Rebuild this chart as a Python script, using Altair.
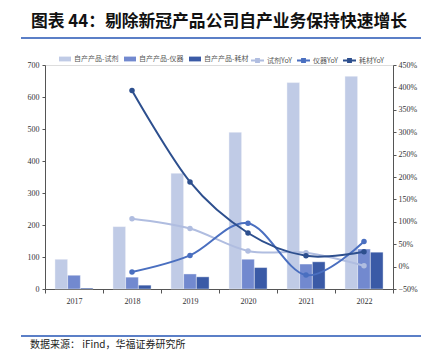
import altair as alt
import pandas as pd

years = ["2017", "2018", "2019", "2020", "2021", "2022"]
bar_series = ["自产产品-试剂", "自产产品-仪器", "自产产品-耗材"]
reagent = [93, 195, 362, 490, 645, 665]
instrument = [43, 37, 47, 93, 78, 125]
consumable = [3, 12, 38, 67, 85, 115]

line_series = ["试剂YoY", "仪器YoY", "耗材YoY"]
reagent_yoy = [None, 1.07, 0.85, 0.35, 0.31, 0.02]
instrument_yoy = [None, -0.12, 0.25, 0.97, -0.19, 0.56]
consumable_yoy = [None, 3.93, 1.89, 0.75, 0.24, 0.33]

bar_colors = ["#c0cbe6", "#7289cf", "#3a5aa6"]
line_colors = ["#b0bde0", "#4a6fc0", "#2d4f8e"]

bars = []
for s, vals in zip(bar_series, [reagent, instrument, consumable]):
    for y, v in zip(years, vals):
        bars.append({"year": y, "series": s, "value": v})
bar_df = pd.DataFrame(bars)

lines = []
for s, vals in zip(line_series, [reagent_yoy, instrument_yoy, consumable_yoy]):
    for y, v in zip(years, vals):
        if v is not None:
            lines.append({"year": y, "series": s, "yoy": v})
line_df = pd.DataFrame(lines)

serif = "Liberation Serif"
cjk = "Noto Sans CJK SC"

x_enc = alt.X("year:N", sort=years, title=None,
              scale=alt.Scale(paddingInner=0, paddingOuter=0),
              axis=alt.Axis(labelAngle=0, tickBand="extent", labelFont=serif,
                            labelFontSize=8, labelColor="#333", domainColor="#555",
                            tickColor="#555", tickSize=4, labelPadding=4, grid=False))

bar_layer = alt.Chart(bar_df).mark_bar(stroke="white", strokeWidth=0.4).encode(
    x=x_enc,
    xOffset=alt.XOffset("series:N", sort=bar_series,
                        scale=alt.Scale(paddingOuter=0.78, paddingInner=0)),
    y=alt.Y("value:Q", title=None,
            scale=alt.Scale(domain=[0, 700]),
            axis=alt.Axis(values=list(range(0, 701, 100)), labelFont=serif,
                          labelFontSize=8, labelColor="#333", domainColor="#555",
                          tickColor="#555", tickSize=3, grid=False, labelPadding=3)),
    color=alt.Color("series:N", sort=bar_series,
                    scale=alt.Scale(domain=bar_series, range=bar_colors),
                    legend=alt.Legend(orient="none", legendX=14, legendY=-12,
                                      direction="horizontal", title=None,
                                      symbolType="M-1,-0.4H1V0.4H-1Z", symbolSize=144,
                                      symbolStrokeWidth=0,
                                      labelFont=cjk, labelFontSize=7,
                                      labelColor="#555", columnPadding=5,
                                      labelOffset=3)),
)

y2 = alt.Y("yoy:Q", title=None,
           scale=alt.Scale(domain=[-0.5, 4.5]),
           axis=alt.Axis(orient="right", format="0%",
                         values=[-0.5, 0, 0.5, 1, 1.5, 2, 2.5, 3, 3.5, 4, 4.5],
                         labelFont=serif, labelFontSize=8, labelColor="#333",
                         domainColor="#555", tickColor="#555", tickSize=3,
                         grid=False, labelPadding=2))

line_layer = alt.Chart(line_df).mark_line(interpolate="cardinal", strokeWidth=2).encode(
    x=alt.X("year:N", sort=years),
    y=y2,
    stroke=alt.Stroke("series:N", sort=line_series,
                      scale=alt.Scale(domain=line_series, range=line_colors),
                      legend=alt.Legend(orient="none", legendX=205, legendY=-12,
                                        direction="horizontal", title=None,
                                        symbolType="M-1,0H1M-0.22,-0.22H0.22V0.22H-0.22Z",
                                        symbolStrokeWidth=2, symbolSize=169,
                                        labelFont=cjk, labelFontSize=7,
                                        labelColor="#555", columnPadding=1,
                                        labelOffset=2)),
)

point_layer = alt.Chart(line_df).mark_point(filled=True, size=30, opacity=1).encode(
    x=alt.X("year:N", sort=years),
    y=y2,
    fill=alt.Fill("series:N", sort=line_series,
                  scale=alt.Scale(domain=line_series, range=line_colors),
                  legend=None),
)

lines_all = alt.layer(line_layer, point_layer)

deco = pd.DataFrame({"a": [0]})
title = alt.Chart(deco).mark_text(
    text="图表 44：剔除新冠产品公司自产业务保持快速增长", font=cjk, fontSize=16.8,
    fontWeight="bold", align="left", baseline="middle", color="#111"
).encode(x=alt.value(-14), y=alt.value(-43))
top_rule = alt.Chart(deco).mark_rule(color="#5b7fc7", strokeWidth=2).encode(
    x=alt.value(-24), x2=alt.value(376), y=alt.value(-27))
bottom_rule = alt.Chart(deco).mark_rule(color="#5b7fc7", strokeWidth=2).encode(
    x=alt.value(-24), x2=alt.value(376), y=alt.value(271))
source = alt.Chart(deco).mark_text(
    text="数据来源： iFind，华福证券研究所", font=cjk, fontSize=10,
    align="left", baseline="middle", color="#222"
).encode(x=alt.value(-15), y=alt.value(280))

main = alt.layer(bar_layer, lines_all).resolve_scale(y="independent", color="independent")

chart = alt.layer(main, title, top_rule, bottom_rule, source).properties(
    width=348, height=224,
    autosize=alt.AutoSizeParams(type="none"),
    padding={"left": 37, "top": 57, "right": 31, "bottom": 66},
).configure_view(stroke=None).configure(background="white")

chart.save("out.html", embed_options={"renderer": "svg", "actions": False})
